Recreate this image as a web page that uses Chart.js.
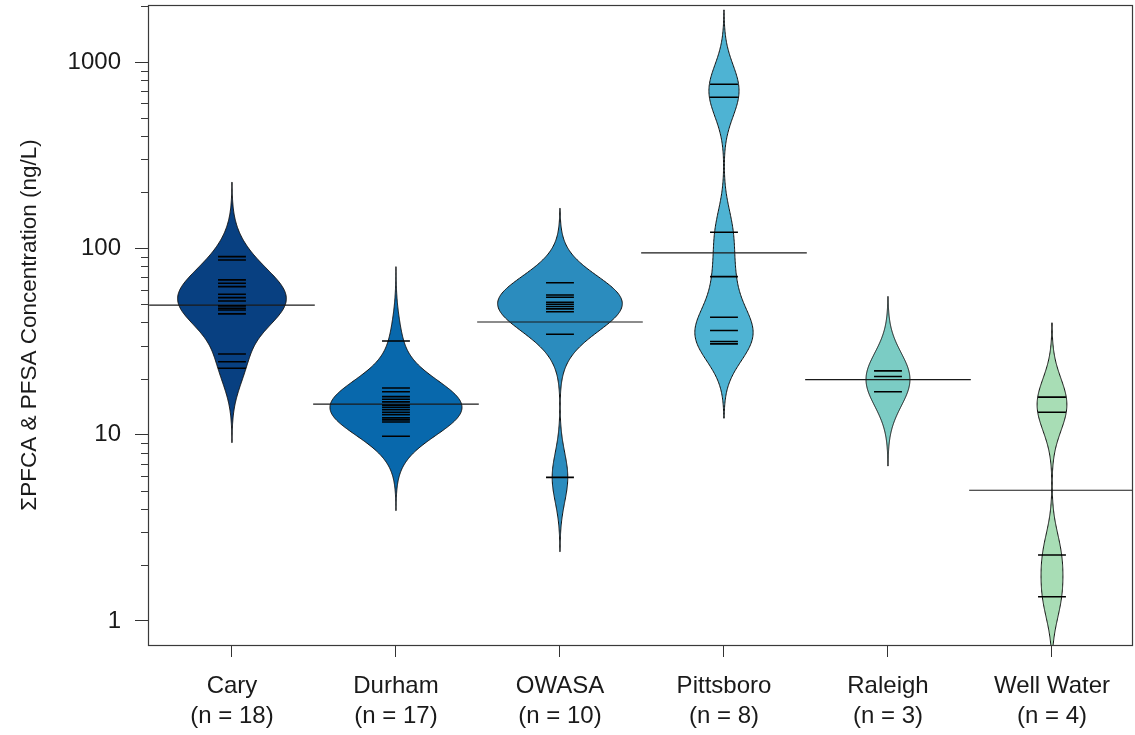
<!DOCTYPE html>
<html>
<head>
<meta charset="utf-8">
<script src="https://cdn.jsdelivr.net/npm/chart.js@4"></script>
<style>
  html, body { margin: 0; padding: 0; background: #fff; }
  canvas { display: block; }
</style>
</head>
<body>
<canvas id="chart" width="1135" height="735"></canvas>
<script>
// Sampling sites and the summed PFCA + PFSA concentrations measured at each (ng/L)
const sites = ['Cary', 'Durham', 'OWASA', 'Pittsboro', 'Raleigh', 'Well Water'];
const cary = [90.3, 86.6, 67.7, 65.0, 62.3, 56.7, 56.7, 54.4, 52.2, 49.1, 47.7, 47.7, 46.7, 46.7, 44.5, 27.1, 24.6, 22.7];
const durham = [31.8, 17.8, 17.0, 16.0, 16.0, 15.5, 15.0, 14.4, 14.0, 13.6, 13.6, 13.2, 12.8, 12.3, 12.0, 11.7, 9.8];
const owasa = [65.4, 56.2, 54.6, 51.4, 50.1, 48.7, 47.3, 45.7, 34.6, 5.9];
const pittsboro = [760, 647, 122, 70.5, 42.7, 36.2, 31.6, 30.7];
const raleigh = [22.0, 20.5, 17.0];
const wellWater = [15.9, 13.2, 2.26, 1.35];
const groups = [cary, durham, owasa, pittsboro, raleigh, wellWater];
const yMajorTicks = [1, 10, 100, 1000];

const beanColors = ['#084081', '#0868ac', '#2b8cbe', '#4eb3d3', '#7bccc4', '#a8ddb5'];
const FONT = 'Arial, "Liberation Sans", Helvetica, sans-serif';

// Axis limits
const Y_MIN = 0.743, Y_MAX = 2023;
const X_MIN = 0.488, X_MAX = 6.494;

// Kernel density settings (log10 space): common bandwidth, tails cut at 3 bandwidths.
const BANDWIDTH = 0.133;
const CUT = 3;
// Bean half-width (x units) per unit of density, growing with sample size up to 10.
const WIDTH_PER_DENSITY = 0.01585;
const BEANLINE_HALF = 0.085;
const AVERAGE_HALF = 0.505;

const geoMean = vals => Math.pow(10, vals.reduce((s, v) => s + Math.log10(v), 0) / vals.length);

function beanOutline(vals) {
  const logs = vals.map(Math.log10);
  const n = logs.length;
  const lo = Math.min(...logs) - CUT * BANDWIDTH;
  const hi = Math.max(...logs) + CUT * BANDWIDTH;
  const steps = 300;
  const norm = n * BANDWIDTH * Math.sqrt(2 * Math.PI);
  const out = [];
  for (let k = 0; k <= steps; k++) {
    const t = lo + (hi - lo) * k / steps;
    let d = 0;
    for (const l of logs) { const z = (t - l) / BANDWIDTH; d += Math.exp(-0.5 * z * z); }
    out.push({ t, w: (d / norm) * Math.min(n, 10) * WIDTH_PER_DENSITY });
  }
  return out;
}

const beanPlugin = {
  id: 'beans',
  beforeDatasetsDraw(chart) {
    const { ctx, chartArea, scales: { x, y } } = chart;
    ctx.save();
    ctx.beginPath();
    ctx.rect(chartArea.left, chartArea.top, chartArea.right - chartArea.left, chartArea.bottom - chartArea.top);
    ctx.clip();
    groups.forEach((vals, i) => {
      const c = i + 1;
      const pts = beanOutline(vals);
      ctx.beginPath();
      pts.forEach((p, k) => {
        const px = x.getPixelForValue(c + p.w), py = y.getPixelForValue(Math.pow(10, p.t));
        if (k === 0) ctx.moveTo(px, py); else ctx.lineTo(px, py);
      });
      for (let k = pts.length - 1; k >= 0; k--) {
        const p = pts[k];
        ctx.lineTo(x.getPixelForValue(c - p.w), y.getPixelForValue(Math.pow(10, p.t)));
      }
      ctx.closePath();
      ctx.fillStyle = beanColors[i];
      ctx.fill();
      ctx.lineWidth = 1;
      ctx.strokeStyle = '#111';
      ctx.stroke();
    });
    ctx.restore();
  },
  afterDraw(chart) {
    const { ctx, chartArea, scales: { y } } = chart;
    ctx.save();
    ctx.strokeStyle = '#3a3a3a';
    ctx.lineWidth = 1.2;
    // plot frame
    ctx.strokeRect(Math.round(chartArea.left) + 0.5, Math.round(chartArea.top) + 0.5,
      Math.round(chartArea.right - chartArea.left) - 1, Math.round(chartArea.bottom - chartArea.top));
    // minor log ticks
    ctx.lineWidth = 1;
    ctx.beginPath();
    for (const base of yMajorTicks) {
      for (let m = 2; m <= 9; m++) {
        const v = base * m;
        if (v < y.min || v > y.max) continue;
        const py = Math.round(y.getPixelForValue(v)) + 0.5;
        ctx.moveTo(chartArea.left - 7, py);
        ctx.lineTo(chartArea.left, py);
      }
    }
    ctx.stroke();
    ctx.restore();
  }
};

const datasets = [];
groups.forEach((vals, i) => {
  const c = i + 1;
  datasets.push({
    label: sites[i] + ' samples',
    data: vals.flatMap(v => [{ x: c - BEANLINE_HALF, y: v }, { x: c + BEANLINE_HALF, y: v }, { x: c, y: null }]),
    borderColor: '#000',
    borderWidth: 1.6,
    pointRadius: 0,
    showLine: true,
    spanGaps: false
  });
  const gm = geoMean(vals);
  datasets.push({
    label: sites[i] + ' geometric mean',
    data: [{ x: c - AVERAGE_HALF, y: gm }, { x: c + AVERAGE_HALF, y: gm }],
    borderColor: '#1a1a1a',
    borderWidth: 1.2,
    pointRadius: 0,
    showLine: true
  });
});

// Keep the plot box fixed: no extra room for half-labels at the axis ends.
const noEndPadding = scale => {
  scale.paddingTop = 0; scale.paddingBottom = 0;
  scale.paddingLeft = 0; scale.paddingRight = 0;
};

new Chart(document.getElementById('chart'), {
  type: 'scatter',
  data: { datasets },
  plugins: [beanPlugin],
  options: {
    responsive: false,
    animation: false,
    events: [],
    layout: { padding: { top: 5, right: 2, left: 0, bottom: 0 } },
    plugins: { legend: { display: false }, tooltip: { enabled: false } },
    scales: {
      x: {
        type: 'linear',
        min: X_MIN,
        max: X_MAX,
        bounds: 'data',
        afterBuildTicks: scale => {
          scale.ticks = sites.map((_, i) => ({ value: i + 1 }));
          scale.min = X_MIN; scale.max = X_MAX;
        },
        afterFit: scale => { scale.height = 90; noEndPadding(scale); },
        border: { display: false },
        grid: { drawOnChartArea: false, tickLength: 12, color: '#333', tickColor: '#333' },
        ticks: {
          autoSkip: false,
          maxRotation: 0,
          padding: 14,
          color: '#1a1a1a',
          font: { family: FONT, size: 24, lineHeight: 1.25 },
          callback: v => [sites[v - 1], '(n = ' + groups[v - 1].length + ')']
        }
      },
      y: {
        type: 'logarithmic',
        min: Y_MIN,
        max: Y_MAX,
        bounds: 'data',
        afterBuildTicks: scale => {
          scale.ticks = yMajorTicks.map(v => ({ value: v }));
          scale.min = Y_MIN; scale.max = Y_MAX;
        },
        afterFit: scale => { scale.width = 148; noEndPadding(scale); },
        border: { display: false },
        grid: { drawOnChartArea: false, tickLength: 13, color: '#333', tickColor: '#333' },
        ticks: {
          autoSkip: false,
          padding: 14,
          color: '#1a1a1a',
          font: { family: FONT, size: 24 },
          callback: v => String(v)
        },
        title: {
          display: true,
          text: '\u03A3PFCA & PFSA Concentration (ng/L)',
          color: '#1a1a1a',
          font: { family: FONT, size: 22.5 },
          padding: { top: 16, bottom: 0 }
        }
      }
    }
  }
});
</script>
</body>
</html>
